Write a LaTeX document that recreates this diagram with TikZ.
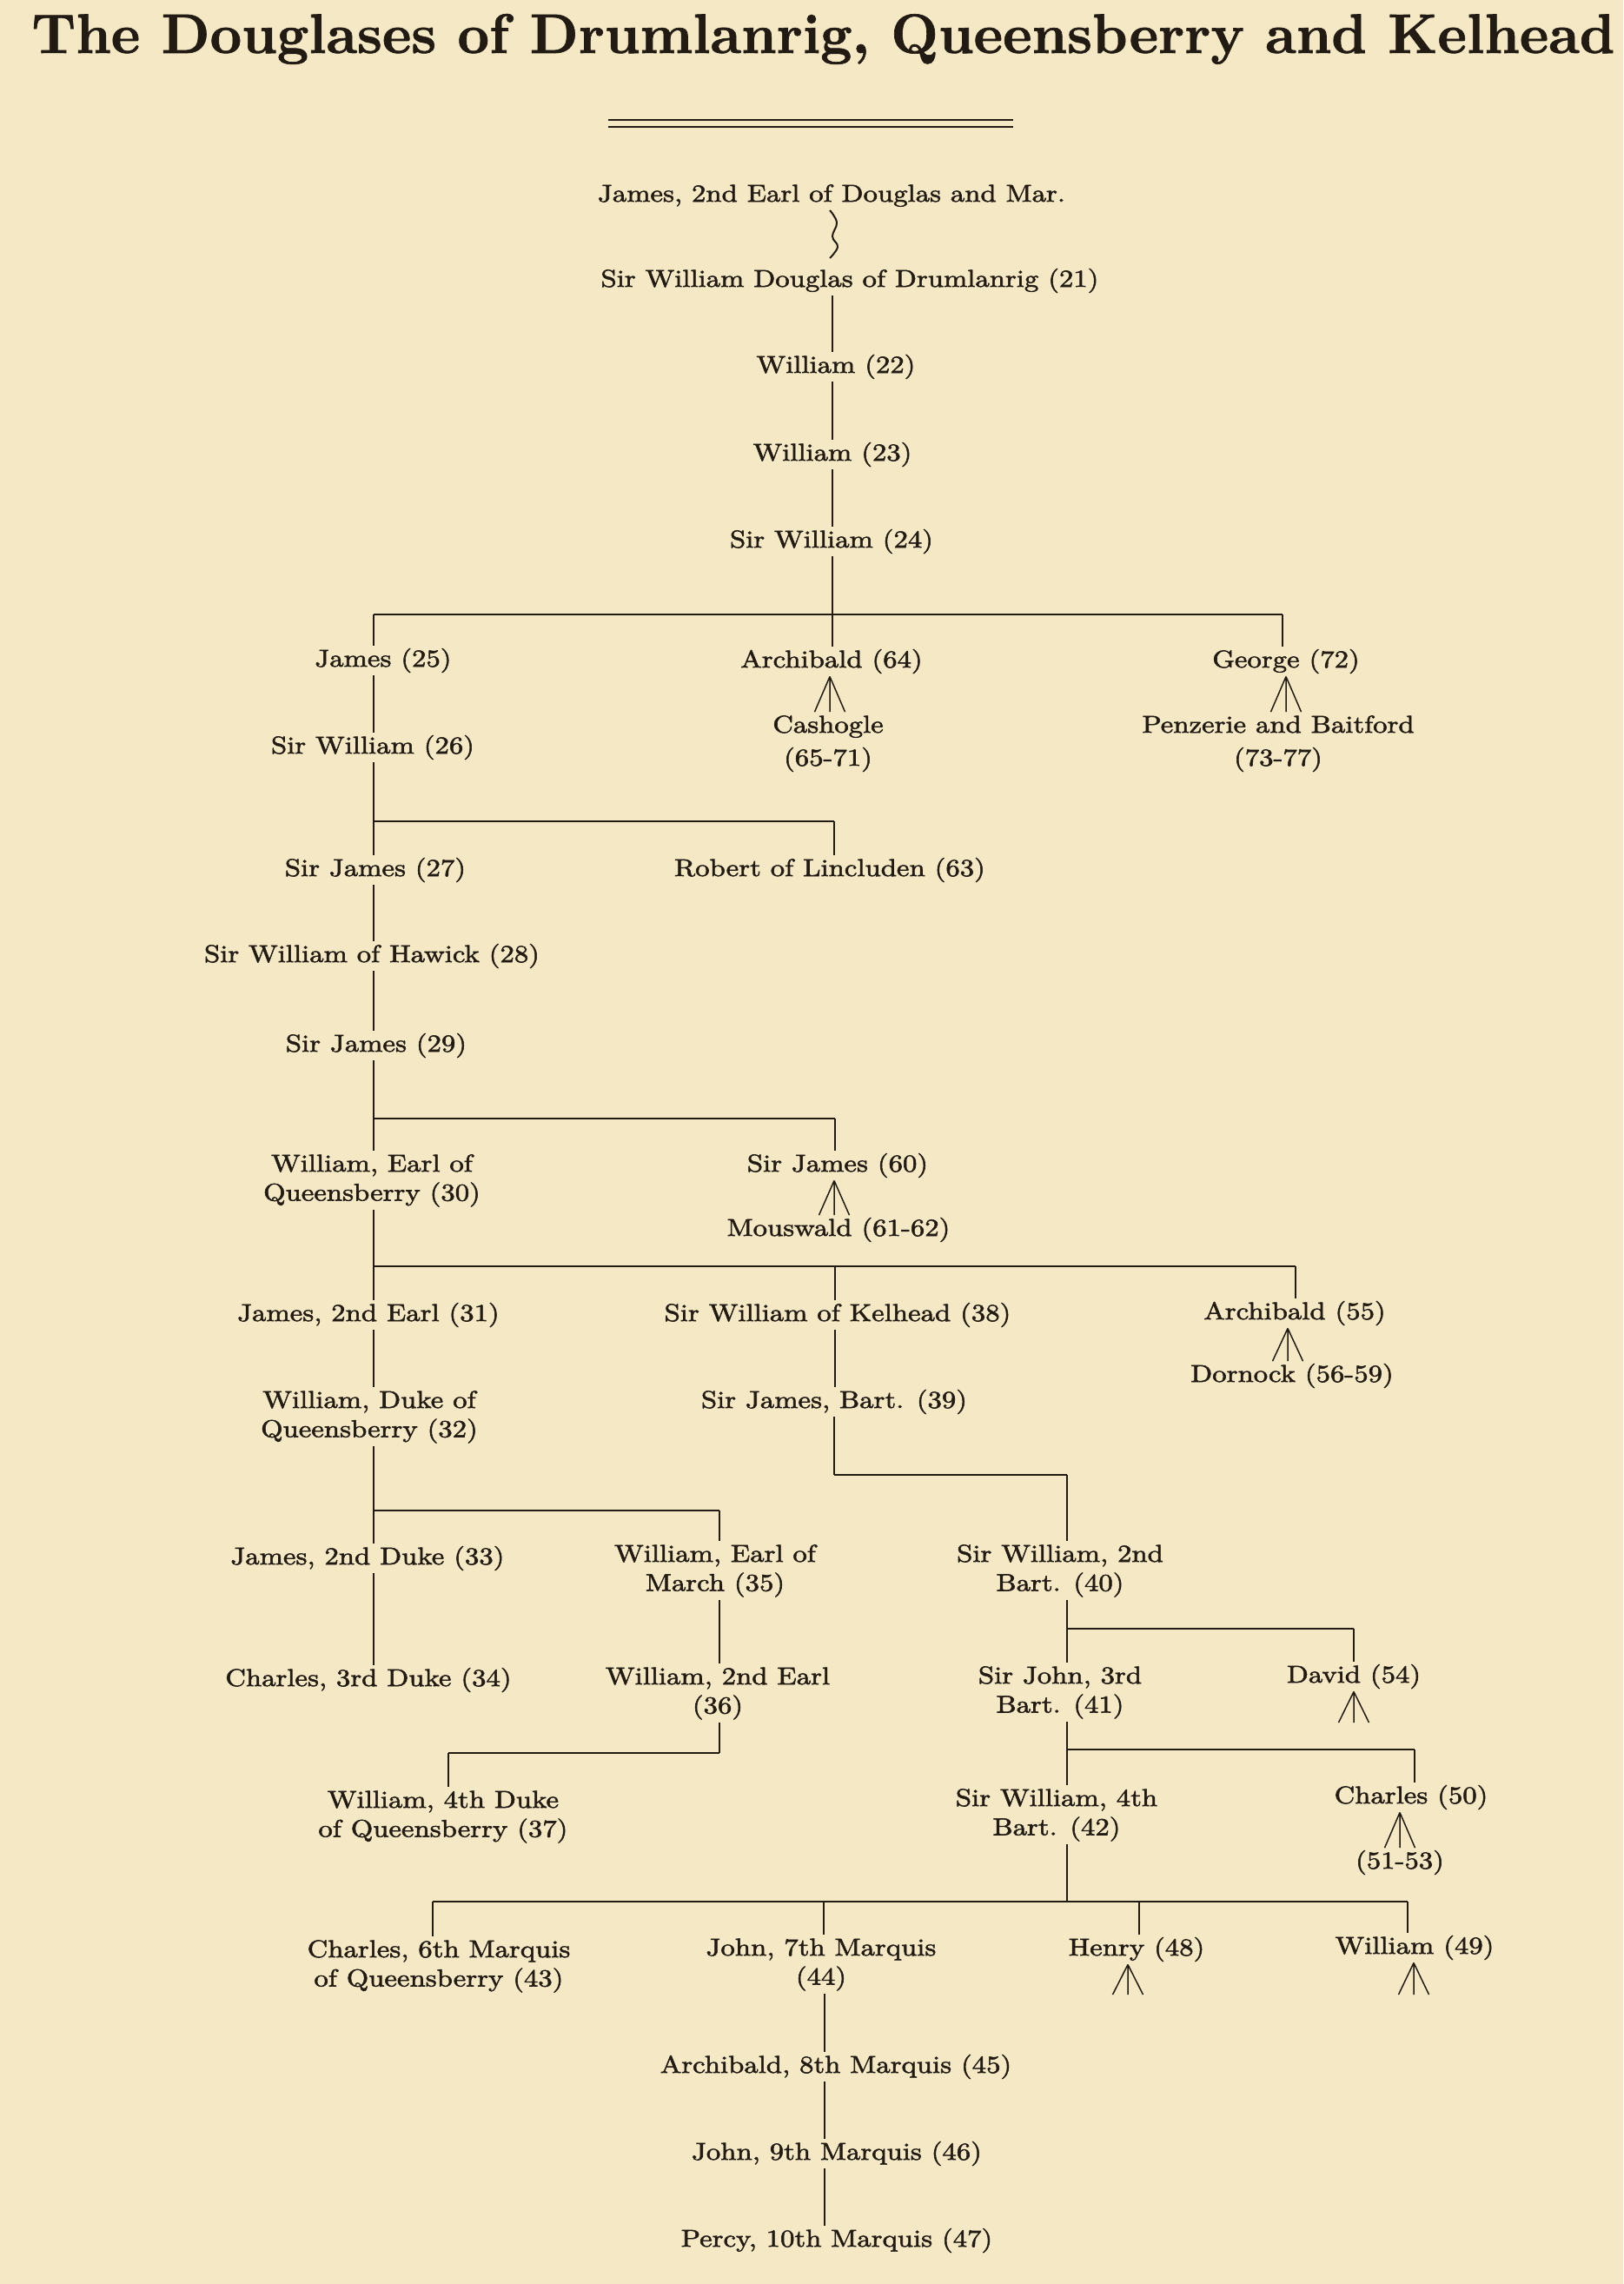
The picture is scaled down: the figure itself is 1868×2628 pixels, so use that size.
\documentclass[tikz,border=0pt]{standalone}
\usepackage{fontspec}
\usepackage{graphicx}
\newfontfamily\bodyfont{lmroman10-regular.otf}[FakeStretch=1.17,FakeBold=2]
\newfontfamily\titlefont{lmroman10-bold.otf}[FakeBold=1]
\definecolor{paper}{RGB}{245,233,197}
\definecolor{ink}{RGB}{34,27,20}
\newcommand\two[3][0pt]{\begin{tabular}[t]{@{}c@{}}#2\\[#1]#3\end{tabular}}
\tikzset{
  lbl/.style={anchor=base, inner sep=0pt, text=ink,
    font=\bodyfont\fontsize{14pt}{16.75pt}\selectfont,
    execute at begin node=\strut},
  conn/.style={draw=ink, line width=0.85pt},
  bar/.style={draw=ink, line width=1.3pt},
  fanl/.style={draw=ink, line width=0.75pt},
  rule/.style={draw=ink, line width=1.1pt}
}
\begin{document}
\begin{tikzpicture}[x=0.5pt,y=-0.5pt]
\fill[paper] (0,0) rectangle (1868,2628);
\useasboundingbox (0,0) rectangle (1868,2628);

% title and double rule
\node[anchor=base west, inner sep=0pt, text=ink] (title) at (36,61)
  {\resizebox{911pt}{22.5pt}{\titlefont The Douglases of Drumlanrig, Queensberry and Kelhead}};
\draw[rule] (700,138) -- (1166,138);
\draw[rule] (700,146) -- (1166,146);

% ---------- nodes ----------
\node[lbl] (n0)  at (957,232) {James, 2nd Earl of Douglas and Mar.};
\node[lbl] (n21) at (978,330) {Sir William Douglas of Drumlanrig (21)};
\node[lbl] (n22) at (962,429) {William (22)};
\node[lbl] (n23) at (958,530) {William (23)};
\node[lbl] (n24) at (957,630) {Sir William (24)};
\node[lbl] (n25) at (441,767) {James (25)};
\node[lbl] (n64) at (957,768) {Archibald (64)};
\node[lbl] (n72) at (1480,768) {George (72)};
\node[lbl] (c64) at (953,843) {\two[2.25pt]{Cashogle}{(65-71)}};
\node[lbl] (c72) at (1471,843) {\two[2.25pt]{Penzerie and Baitford}{(73-77)}};
\node[lbl] (n26) at (429,867) {Sir William (26)};
\node[lbl] (n27) at (432,1008) {Sir James (27)};
\node[lbl] (n63) at (955,1008) {Robert of Lincluden (63)};
\node[lbl] (n28) at (428,1107) {Sir William of Hawick (28)};
\node[lbl] (n29) at (433,1210) {Sir James (29)};
\node[lbl] (n30) at (428,1348) {\two{William, Earl of}{Queensberry (30)}};
\node[lbl] (n60) at (964,1348) {Sir James (60)};
\node[lbl] (c60) at (965,1422) {Mouswald (61-62)};
\node[lbl] (n31) at (424,1520) {James, 2nd Earl (31)};
\node[lbl] (n38) at (964,1520) {Sir William of Kelhead (38)};
\node[lbl] (n55) at (1490,1518) {Archibald (55)};
\node[lbl] (c55) at (1487,1590) {Dornock (56-59)};
\node[lbl] (n32) at (425,1620) {\two{William, Duke of}{Queensberry (32)}};
\node[lbl] (n39) at (960,1620) {Sir James, Bart. (39)};
\node[lbl] (n33) at (423,1800) {James, 2nd Duke (33)};
\node[lbl] (n35) at (823,1797) {\two{William, Earl of}{March (35)}};
\node[lbl] (n40) at (1220,1797) {\two{Sir William, 2nd}{Bart. (40)}};
\node[lbl] (n34) at (424,1940) {Charles, 3rd Duke (34)};
\node[lbl] (n36) at (826,1938) {\two{William, 2nd Earl}{(36)}};
\node[lbl] (n41) at (1220,1937) {\two{Sir John, 3rd}{Bart. (41)}};
\node[lbl] (n54) at (1558,1936) {David (54)};
\node[lbl] (n37) at (510,2080) {\two{William, 4th Duke}{of Queensberry (37)}};
\node[lbl] (n42) at (1216,2078) {\two{Sir William, 4th}{Bart. (42)}};
\node[lbl] (n50) at (1624,2075) {Charles (50)};
\node[lbl] (c50) at (1611,2150) {(51-53)};
\node[lbl] (n43) at (505,2252) {\two{Charles, 6th Marquis}{of Queensberry (43)}};
\node[lbl] (n44) at (945,2250) {\two{John, 7th Marquis}{(44)}};
\node[lbl] (n48) at (1308,2250) {Henry (48)};
\node[lbl] (n49) at (1628,2248) {William (49)};
\node[lbl] (n45) at (962,2385) {Archibald, 8th Marquis (45)};
\node[lbl] (n46) at (963,2485) {John, 9th Marquis (46)};
\node[lbl] (n47) at (963,2585) {Percy, 10th Marquis (47)};

% ---------- column and bar coordinates ----------
\coordinate (xT) at (958,0);
\coordinate (xL) at (430,0);
\coordinate (x40) at (1228,0);
\coordinate (x44) at (949,0);
\coordinate (f64) at (955,0);
\coordinate (f72) at (1480,0);
\coordinate (f60) at (960,0);
\coordinate (f55) at (1482,0);
\coordinate (f50) at (1611,0);
\coordinate (e54) at (1558,1982);
\coordinate (e48) at (1298,2295);
\coordinate (e49) at (1627,2295);

\coordinate (aL) at (430,707);  \coordinate (aM) at (958,707);  \coordinate (aR) at (1476,707);
\coordinate (bL) at (430,945);  \coordinate (bR) at (960,945);
\coordinate (cL) at (430,1287); \coordinate (cR) at (961,1287);
\coordinate (dL) at (430,1457); \coordinate (dM) at (961,1457); \coordinate (dR) at (1491,1457);
\coordinate (eL) at (960,1697); \coordinate (eR) at (1228,1697);
\coordinate (fL) at (430,1738); \coordinate (fR) at (828,1738);
\coordinate (gL) at (516,2017); \coordinate (gR) at (828,2017);
\coordinate (hL) at (1228,1874); \coordinate (hR) at (1558,1874);
\coordinate (iL) at (1228,2013); \coordinate (iR) at (1628,2013);
\coordinate (jL) at (498,2188); \coordinate (jA) at (948,2188); \coordinate (jM) at (1228,2188);
\coordinate (jB) at (1311,2188); \coordinate (jR) at (1620,2188);

% ---------- connectors ----------
% descent line (wavy)
\draw[conn, line width=1pt] plot[smooth, tension=0.7] coordinates {(955,242) (963,256) (958,272) (964,284) (955,297)};

% main trunk
\draw[conn] (n21.south -| xT) -- (n22.north -| xT);
\draw[conn] (n22.south -| xT) -- (n23.north -| xT);
\draw[conn] (n23.south -| xT) -- (n24.north -| xT);
\draw[conn] (n24.south -| xT) -- (aM);
\draw[bar] (aL) -- (aR);
\draw[conn] (aL) -- (n25.north -| aL);
\draw[conn] (aM) -- (n64.north -| aM);
\draw[conn] (aR) -- (n72.north -| aR);

% fans
\draw[fanl] (n64.south -| f64) coordinate (fa64) -- (c64.north -| f64) coordinate (fb64)
  (fa64) -- ([xshift=-8.75pt]fb64) (fa64) -- ([xshift=8.75pt]fb64);
\draw[fanl] (n72.south -| f72) coordinate (fa72) -- (c72.north -| f72) coordinate (fb72)
  (fa72) -- ([xshift=-8.75pt]fb72) (fa72) -- ([xshift=8.75pt]fb72);

% left line
\draw[conn] (n25.south -| xL) -- (n26.north -| xL);
\draw[conn] (n26.south -| xL) -- (n27.north -| xL);
\draw[bar] (bL) -- (bR);
\draw[conn] (bR) -- (n63.north -| bR);
\draw[conn] (n27.south -| xL) -- (n28.north -| xL);
\draw[conn] (n28.south -| xL) -- (n29.north -| xL);
\draw[conn] (n29.south -| xL) -- (n30.north -| xL);
\draw[bar] (cL) -- (cR);
\draw[conn] (cR) -- (n60.north -| cR);
\draw[fanl] (n60.south -| f60) coordinate (fa60) -- (c60.north -| f60) coordinate (fb60)
  (fa60) -- ([xshift=-8.75pt]fb60) (fa60) -- ([xshift=8.75pt]fb60);

\draw[conn] (n30.south -| xL) -- (n31.north -| xL);
\draw[bar] (dL) -- (dR);
\draw[conn] (dM) -- (n38.north -| dM);
\draw[conn] (dR) -- (n55.north -| dR);
\draw[fanl] (n55.south -| f55) coordinate (fa55) -- (c55.north -| f55) coordinate (fb55)
  (fa55) -- ([xshift=-8.75pt]fb55) (fa55) -- ([xshift=8.75pt]fb55);

\draw[conn] (n31.south -| xL) -- (n32.north -| xL);
\draw[conn] (n38.south -| dM) -- (n39.north -| dM);
\draw[conn] (n39.south -| eL) -- (eL);
\draw[bar] (eL) -- (eR);
\draw[conn] (eR) -- (n40.north -| eR);

\draw[conn] (n32.south -| xL) -- (n33.north -| xL);
\draw[bar] (fL) -- (fR);
\draw[conn] (fR) -- (n35.north -| fR);
\draw[conn] (n33.south -| xL) -- (n34.north -| xL);
\draw[conn] (n35.south -| fR) -- (n36.north -| fR);
\draw[conn] (n36.south -| gR) -- (gR);
\draw[bar] (gL) -- (gR);
\draw[conn] (gL) -- (n37.north -| gL);

% Kelhead line
\draw[conn] (n40.south -| x40) -- (n41.north -| x40);
\draw[bar] (hL) -- (hR);
\draw[conn] (hR) -- (n54.north -| hR);
\draw[fanl] (n54.south -| e54) coordinate (fa54) -- (e54)
  (fa54) -- ([xshift=-8.75pt]e54) (fa54) -- ([xshift=8.75pt]e54);

\draw[conn] (n41.south -| x40) -- (n42.north -| x40);
\draw[bar] (iL) -- (iR);
\draw[conn] (iR) -- (n50.north -| iR);
\draw[fanl] (n50.south -| f50) coordinate (fa50) -- (c50.north -| f50) coordinate (fb50)
  (fa50) -- ([xshift=-8.75pt]fb50) (fa50) -- ([xshift=8.75pt]fb50);

\draw[conn] (n42.south -| x40) -- (jM);
\draw[bar] (jL) -- (jR);
\draw[conn] (jL) -- (n43.north -| jL);
\draw[conn] (jA) -- (n44.north -| jA);
\draw[conn] (jB) -- (n48.north -| jB);
\draw[conn] (jR) -- (n49.north -| jR);
\draw[fanl] (n48.south -| e48) coordinate (fa48) -- (e48)
  (fa48) -- ([xshift=-8.75pt]e48) (fa48) -- ([xshift=8.75pt]e48);
\draw[fanl] (n49.south -| e49) coordinate (fa49) -- (e49)
  (fa49) -- ([xshift=-8.75pt]e49) (fa49) -- ([xshift=8.75pt]e49);

% Marquises
\draw[conn] (n44.south -| x44) -- (n45.north -| x44);
\draw[conn] (n45.south -| x44) -- (n46.north -| x44);
\draw[conn] (n46.south -| x44) -- (n47.north -| x44);
\end{tikzpicture}
\end{document}
